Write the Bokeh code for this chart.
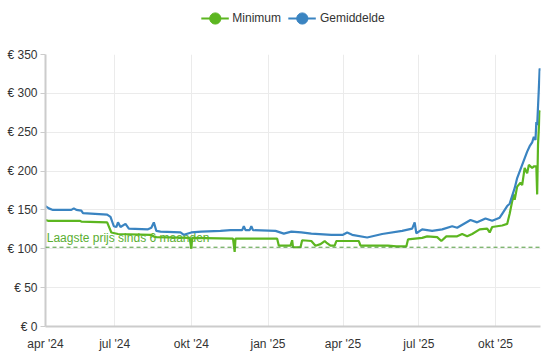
import pandas as pd
from bokeh.plotting import figure
from bokeh.layouts import column
from bokeh.models import FixedTicker, Legend, LegendItem, Span, Range1d
from bokeh.core.properties import value
from bokeh.embed import file_html
from bokeh.resources import INLINE

# ---------------- data ----------------
min_dates = ["2024-04-09", "2024-04-12", "2024-05-20", "2024-05-22", "2024-06-22", "2024-06-27",
             "2024-07-05", "2024-08-13", "2024-08-17", "2024-08-20", "2024-09-29", "2024-10-01",
             "2024-10-02", "2024-11-20", "2024-11-22", "2024-11-23", "2025-01-12", "2025-01-14",
             "2025-01-28", "2025-01-30", "2025-01-31", "2025-02-09", "2025-02-11", "2025-02-22",
             "2025-02-27", "2025-03-05", "2025-03-10", "2025-03-12", "2025-03-17", "2025-03-22",
             "2025-03-24", "2025-04-20", "2025-04-22", "2025-05-18", "2025-05-25", "2025-06-04",
             "2025-06-16", "2025-06-18", "2025-07-05", "2025-07-11", "2025-07-23", "2025-07-28",
             "2025-08-03", "2025-08-16", "2025-08-22", "2025-08-28", "2025-09-03", "2025-09-12",
             "2025-09-21", "2025-09-24", "2025-09-27", "2025-10-09", "2025-10-15", "2025-10-18",
             "2025-10-21", "2025-10-23", "2025-10-24", "2025-10-27", "2025-10-31", "2025-11-02",
             "2025-11-05", "2025-11-08", "2025-11-10", "2025-11-14", "2025-11-16", "2025-11-19",
             "2025-11-20", "2025-11-21", "2025-11-23", "2025-11-24"]
min_values = [137, 136, 136, 135, 134, 121,
              119, 118, 116, 115, 114, 100,
              114, 113, 96, 113, 113, 104,
              104, 111, 102, 102, 111, 110,
              104, 106, 110, 108, 104, 104,
              110, 110, 104, 104, 104, 103,
              103, 112, 114, 116, 115, 110,
              116, 116, 119, 116, 119, 125,
              126, 121, 128, 130, 132, 145,
              161, 170, 163, 180, 185, 182,
              204, 197, 208, 204, 206, 206,
              170, 234, 276, 278]

avg_dates = ["2024-04-09", "2024-04-13", "2024-04-18", "2024-05-10", "2024-05-13", "2024-05-16",
             "2024-05-22", "2024-05-24", "2024-06-22", "2024-06-26", "2024-06-30", "2024-07-03",
             "2024-07-05", "2024-07-08", "2024-07-14", "2024-07-18", "2024-08-10", "2024-08-14",
             "2024-08-17", "2024-08-20", "2024-08-25", "2024-09-18", "2024-09-22", "2024-10-01",
             "2024-10-13", "2024-11-05", "2024-11-17", "2024-12-01", "2024-12-03", "2024-12-05",
             "2024-12-10", "2024-12-12", "2024-12-14", "2025-01-10", "2025-01-20", "2025-01-29",
             "2025-02-10", "2025-02-22", "2025-03-18", "2025-04-01", "2025-04-06", "2025-04-12",
             "2025-04-30", "2025-05-18", "2025-06-11", "2025-06-23", "2025-06-26", "2025-06-28",
             "2025-07-05", "2025-07-17", "2025-07-29", "2025-08-10", "2025-08-16", "2025-09-01",
             "2025-09-09", "2025-09-19", "2025-09-27", "2025-10-06", "2025-10-09", "2025-10-15",
             "2025-10-18", "2025-10-21", "2025-10-24", "2025-10-27", "2025-11-02", "2025-11-08",
             "2025-11-11", "2025-11-14", "2025-11-16", "2025-11-18", "2025-11-19", "2025-11-20",
             "2025-11-22", "2025-11-23", "2025-11-24"]
avg_values = [155, 152, 150, 150, 152, 150,
              149, 146, 144, 141, 129, 128,
              134, 128, 132, 126, 125, 127,
              134, 123, 122, 121, 118, 121,
              122, 123, 124, 124, 129, 124,
              124, 129, 124, 123, 119.5, 122,
              121, 119.5, 118, 118, 121, 118,
              114.5, 119, 123, 126, 134, 120,
              125, 123, 125, 129, 127, 137,
              134, 139, 136, 140, 145, 155,
              158, 168, 178, 191, 208, 225,
              232, 237, 244, 240, 263, 259,
              306, 332, 329]

lowest_6m = 102
lowest_label = "Laagste prijs sinds 6 maanden"

tick_dates = ["2024-04-09", "2024-07-01", "2024-10-01", "2025-01-01", "2025-04-01",
              "2025-07-01", "2025-10-01", "2025-11-24"]
tick_labels = ["apr '24", "jul '24", "okt '24", "jan '25", "apr '25", "jul '25", "okt '25", ""]
y_ticks = [0, 50, 100, 150, 200, 250, 300, 350]
y_labels = ["€ 0", "€ 50", "€ 100", "€ 150", "€ 200", "€ 250", "€ 300", "€ 350"]

series_names = ["Minimum", "Gemiddelde"]
GREEN = "#5cb620"
BLUE = "#3a84c1"

# ---------------- helpers ----------------
start = pd.Timestamp(min_dates[0])
def days(ds):
    return [float((pd.Timestamp(d) - start).days) for d in ds]

mx = days(min_dates)
ax = days(avg_dates)
tx = days(tick_dates)
end = max(mx[-1], ax[-1])

FONT = "Liberation Sans"

# ---------------- legend strip (series drawn out of view; only the legend shows) ----------------
lg = figure(width=547, height=36, output_backend="svg", toolbar_location=None,
            x_range=Range1d(0, 1), y_range=Range1d(0, 1),
            min_border_left=0, min_border_right=0, min_border_top=0, min_border_bottom=0)
lg.axis.visible = False
lg.grid.visible = False
lg.outline_line_color = None
g1l = lg.line(mx, min_values, line_color=GREEN, line_width=2)
g1s = lg.scatter(mx, min_values, marker="circle", size=12, fill_color=GREEN, line_color=GREEN)
g2l = lg.line(ax, avg_values, line_color=BLUE, line_width=2)
g2s = lg.scatter(ax, avg_values, marker="circle", size=12, fill_color=BLUE, line_color=BLUE)
legend = Legend(items=[LegendItem(label=series_names[0], renderers=[g1l, g1s]),
                       LegendItem(label=series_names[1], renderers=[g2l, g2s])],
                orientation="horizontal", location="center",
                label_text_font=FONT, label_text_font_size="12px",
                label_text_color="#333333", border_line_color=None,
                background_fill_alpha=0, glyph_width=28, glyph_height=30,
                spacing=7, label_standoff=4, padding=0, margin=0)
lg.add_layout(legend, "center")

# ---------------- main chart ----------------
p = figure(width=547, height=317, output_backend="svg", toolbar_location=None,
           x_range=Range1d(0, end), y_range=Range1d(0, 350),
           min_border_left=45, min_border_right=7, min_border_top=18, min_border_bottom=25)
p.outline_line_color = None
p.background_fill_color = "white"
p.border_fill_color = "white"

p.xaxis.ticker = FixedTicker(ticks=tx)
p.xaxis.major_label_overrides = {t: l for t, l in zip(tx, tick_labels)}
p.yaxis.ticker = FixedTicker(ticks=y_ticks)
p.yaxis.major_label_overrides = {t: l for t, l in zip(y_ticks, y_labels)}
for a in (p.xaxis[0], p.yaxis[0]):
    a.axis_line_color = "#cccccc"
    a.axis_line_width = 2
    a.major_label_text_font = FONT
    a.major_label_text_font_size = "12px"
    a.major_label_text_color = "#333333"
    a.minor_tick_line_color = None
p.xaxis.major_tick_line_color = None
p.xaxis.major_label_standoff = 4
p.yaxis.major_tick_line_color = "#cccccc"
p.yaxis.major_tick_out = 5
p.yaxis.major_tick_in = 0
p.yaxis.major_label_standoff = 3

p.xgrid.grid_line_color = "#ebebeb"
p.ygrid.grid_line_color = "#ebebeb"

p.add_layout(Span(location=lowest_6m, dimension="width", line_color="#4f9a3c",
                  line_dash="4 3", line_width=1))
p.text(x=[1.5], y=[lowest_6m], text=[lowest_label], text_font=value(FONT),
       text_font_size="12px", text_color="#5aae32", text_baseline="bottom",
       text_align="left", y_offset=-2)

p.line(mx, min_values, line_color=GREEN, line_width=2.2)
p.line(ax, avg_values, line_color=BLUE, line_width=2.2)

layout = column(lg, p, spacing=0)
open("out.html", "w").write(file_html(layout, INLINE))
